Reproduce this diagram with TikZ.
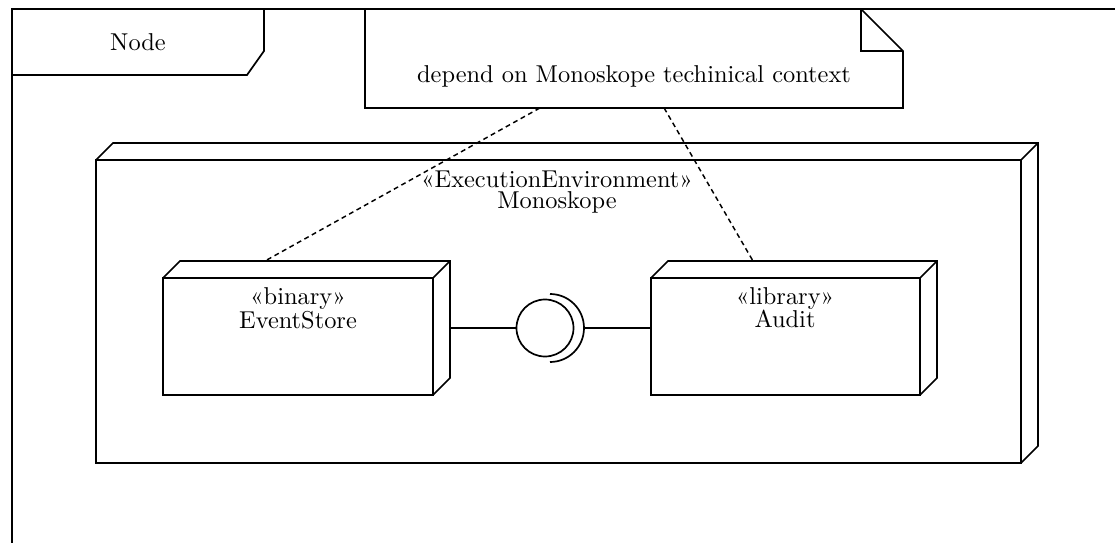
\documentclass[tikz,border=0pt]{standalone}
\usepackage{fontspec}
\usetikzlibrary{calc}
\def\s{0.41pt}
\tikzset{
  ln/.style={line width=0.7pt, line join=miter},
  face/.style={ln, draw, rectangle, inner sep=0pt, outer sep=0pt, anchor=north west},
  txt/.style={anchor=base, inner sep=0pt, font=\normalsize},
  dep/.style={line width=0.6pt, dash pattern=on 2pt off 1.5pt},
}
\begin{document}
\begin{tikzpicture}[x=\s, y=-\s]
\useasboundingbox (0,0) rectangle (1115,543);
% frame
\coordinate (ftr) at (1118,9);
\coordinate (ftl) at (12,9);
\coordinate (fbl) at (12,546);
\draw[ln] (ftr) -- (ftl) -- (fbl);
% frame tab
\coordinate (tab1) at (12,75);
\coordinate (tab2) at (247,75);
\coordinate (tab3) at (264,51);
\coordinate (tab4) at (264,9);
\draw[ln] (tab1) -- (tab2) -- (tab3) -- (tab4);
\node[txt] (tabtext) at (138,50) {Node};
% note
\node[minimum width={538*\s}, minimum height={99*\s}, inner sep=0pt, outer sep=0pt, anchor=north west] (note) at (365,9) {};
\draw[ln] (note.north west) -- (note.south west) -- (note.south east) -- ($(note.north east)+(0,42)$) -- ($(note.north east)+(-42,0)$) -- cycle;
\draw[ln] ($(note.north east)+(-42,0)$) -- ($(note.north east)+(-42,42)$) -- ($(note.north east)+(0,42)$);
\node[txt] (notetext) at (634,82) {depend on Monoskope techinical context};
% execution environment
\node[face, minimum width={925*\s}, minimum height={303*\s}] (env) at (96,160) {};
\draw[ln] (env.north west) -- ++(17,-17) -- ($(env.north east)+(17,-17)$) -- ($(env.south east)+(17,-17)$) -- (env.south east);
\draw[ln] (env.north east) -- ++(17,-17);
\node[txt] (envst) at (557,187) {«ExecutionEnvironment»};
\node[txt] (envname) at (557,208) {Monoskope};
% EventStore
\node[face, minimum width={270*\s}, minimum height={117*\s}] (es) at (163,278) {};
\draw[ln] (es.north west) -- ++(17,-17) -- ($(es.north east)+(17,-17)$) -- ($(es.south east)+(17,-17)$) -- (es.south east);
\draw[ln] (es.north east) -- ++(17,-17);
\node[txt] (esst) at (298,304) {«binary»};
\node[txt] (esname) at (298,328) {EventStore};
% Audit
\node[face, minimum width={269*\s}, minimum height={117*\s}] (au) at (651,278) {};
\draw[ln] (au.north west) -- ++(17,-17) -- ($(au.north east)+(17,-17)$) -- ($(au.south east)+(17,-17)$) -- (au.south east);
\draw[ln] (au.north east) -- ++(17,-17);
\node[txt] (aust) at (785,304) {«library»};
\node[txt] (auname) at (785,327) {Audit};
% interface
\node[ln, draw, circle, minimum size={57*\s}, inner sep=0pt, outer sep=0pt] (iface) at (545,328) {};
\coordinate (sock) at (550,328);
\draw[ln] ($(es.east)+(17,-8.5)$) -- (iface.west);
\draw[ln] ([yshift={-34*\s}]sock) arc[start angle=-90, end angle=90, radius={34*\s}];
\draw[ln] ([xshift={34*\s}]sock) -- (au.west |- sock);
% dependencies
\draw[dep] ($(note.south west)!0.325!(note.south east)$) -- ($(es.north west)+(102,-17)$);
\draw[dep] ($(note.south west)!0.556!(note.south east)$) -- ($(au.north west)+(102,-17)$);
\end{tikzpicture}
\end{document}
